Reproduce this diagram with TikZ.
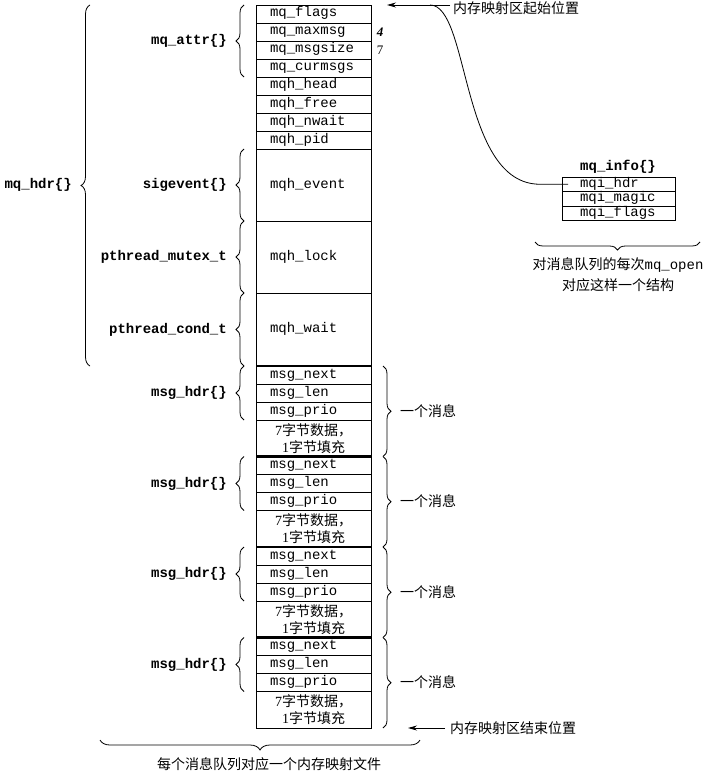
\documentclass[tikz,border=0pt]{standalone}
\usepackage{fontspec}
\setmainfont{Liberation Serif}
\setmonofont{Liberation Mono}
\newfontfamily\cjk{Noto Sans CJK SC}
\usetikzlibrary{decorations.pathreplacing,arrows.meta}
\begin{document}
\begin{tikzpicture}[x=1pt,y=-1pt,
  mono/.style={font=\fontsize{14}{16}\selectfont\ttfamily},
  cellbase/.style={draw, line width=0.8pt, anchor=north west, outer sep=0pt, inner xsep=14pt, inner ysep=0pt, text width=87pt},
  cell/.style={cellbase, mono, align=left, text height=9pt, text depth=3pt, minimum height=#1},
  cell/.default=18pt,
  datacell/.style={cellbase, align=center, minimum height=36.5pt, font=\fontsize{14}{17}\selectfont\cjk},
  lbl/.style={font=\fontsize{14}{16}\selectfont\ttfamily\bfseries, anchor=east, inner sep=0pt},
  brc/.style={decorate, decoration={brace, amplitude=#1}, line width=0.8pt},
  brc/.default=8pt,
  cjktext/.style={font=\fontsize{14}{18}\selectfont\cjk, inner sep=0pt},
  numtext/.style={font=\fontsize{13}{15}\selectfont, inner sep=0pt},
  sepline/.style={line width=2.2pt},
  ptr/.style={line width=0.8pt},
  arr/.style={line width=0.8pt, -{Stealth[length=9pt,width=5pt]}},
]
\fill[white] (0,0) rectangle (708,773);
\useasboundingbox (0,0) rectangle (708,773);

% main column: mq_hdr
\node[cell] (flags)   at (256,5)   {mq\_flags};
\node[cell] (maxmsg)  at (256,23)  {mq\_maxmsg};
\node[cell] (msgsize) at (256,41)  {mq\_msgsize};
\node[cell] (curmsgs) at (256,59)  {mq\_curmsgs};
\node[cell] (head)    at (256,77)  {mqh\_head};
\node[cell] (free)    at (256,95)  {mqh\_free};
\node[cell] (nwait)   at (256,113) {mqh\_nwait};
\node[cell] (pid)     at (256,131) {mqh\_pid};
\node[cell=72pt] (event) at (256,149) {mqh\_event};
\node[cell=72pt] (lock)  at (256,221) {mqh\_lock};
\node[cell=73pt] (wait)  at (256,293) {mqh\_wait};

\node[numtext] (n4) at (380,32) {\itshape\bfseries 4};
\node[numtext] (n7) at (380,50) {7};

% left braces and labels of the header
\draw[brc] ([xshift=-12pt]curmsgs.south west) -- ([xshift=-12pt]flags.north west);
\node[lbl] (lattr) at (227,41) {mq\_attr\{\}};
\draw[brc] ([xshift=-12pt]event.south west) -- ([xshift=-12pt]event.north west);
\node[lbl] (lsig) at (227,185) {sigevent\{\}};
\draw[brc] ([xshift=-12pt]lock.south west) -- ([xshift=-12pt]lock.north west);
\node[lbl] (lmutex) at (227,257) {pthread\_mutex\_t};
\draw[brc] ([xshift=-12pt]wait.south west) -- ([xshift=-12pt]wait.north west);
\node[lbl] (lcond) at (227,330) {pthread\_cond\_t};
\draw[brc=9pt] ([xshift=-166pt]wait.south west) -- ([xshift=-166pt]flags.north west);
\node[lbl] (lhdr) at (72,185) {mq\_hdr\{\}};

% messages
\foreach \i/\b in {1/366, 2/456.5, 3/547, 4/637.5} {
  \node[cell] (next\i) at (256,\b) {msg\_next};
  \node[cell] (len\i)  at (256,{\b+18}) {msg\_len};
  \node[cell] (prio\i) at (256,{\b+36}) {msg\_prio};
  \node[datacell] (data\i) at (256,{\b+54}) {{\rmfamily 7}字节数据，\\{\rmfamily 1}字节填充};
  \draw[sepline] (next\i.north west) -- (next\i.north east);
  \draw[brc] ([xshift=-12pt]prio\i.south west) -- ([xshift=-12pt]next\i.north west);
  \node[lbl] (mh\i) at (227,{\b+27}) {msg\_hdr\{\}};
  \draw[brc] ([xshift=12pt]next\i.north east) -- ([xshift=12pt]data\i.south east);
  \node[cjktext, anchor=west] (msg\i) at (400,{\b+45}) {一个消息};
}

% start / end arrows
\node[cjktext, anchor=west] (starttxt) at (453,8) {内存映射区起始位置};
\coordinate (starttip) at ([xshift=16pt]flags.north east);
\coordinate (join) at (430,5);
\draw[arr] ([xshift=-3pt]starttxt.west |- starttip) -- (starttip);

\node[cjktext, anchor=west] (endtxt) at (450,728) {内存映射区结束位置};
\coordinate (endtip) at ([xshift=37pt]data4.south east);
\draw[arr] ([xshift=-5pt]endtxt.west |- endtip) -- (endtip);

% mq_info structure
\node[lbl, anchor=center] (infot) at (618,167) {mq\_info\{\}};
\node[cell=14.5pt, inner xsep=18pt, text width=77pt] (ihdr)   at (562,177)   {mqi\_hdr};
\node[cell=14.5pt, inner xsep=18pt, text width=77pt] (imagic) at (562,191.5) {mqi\_magic};
\node[cell=14.5pt, inner xsep=18pt, text width=77pt] (iflags) at (562,206)   {mqi\_flags};

\draw[ptr] ([xshift=6pt]ihdr.west) -- (540,184.25) .. controls (460,184.25) and (470,5) .. (join);

\draw[brc] (700,242) -- (535,242);
\node[cjktext] (inote1) at (618,265) {对消息队列的每次{\ttfamily mq\_open}};
\node[cjktext] (inote2) at (618,285) {对应这样一个结构};

% bottom brace
\draw[brc=10pt] (420,740) -- (100,740);
\node[cjktext] (filetxt) at (269,764) {每个消息队列对应一个内存映射文件};
\end{tikzpicture}
\end{document}
